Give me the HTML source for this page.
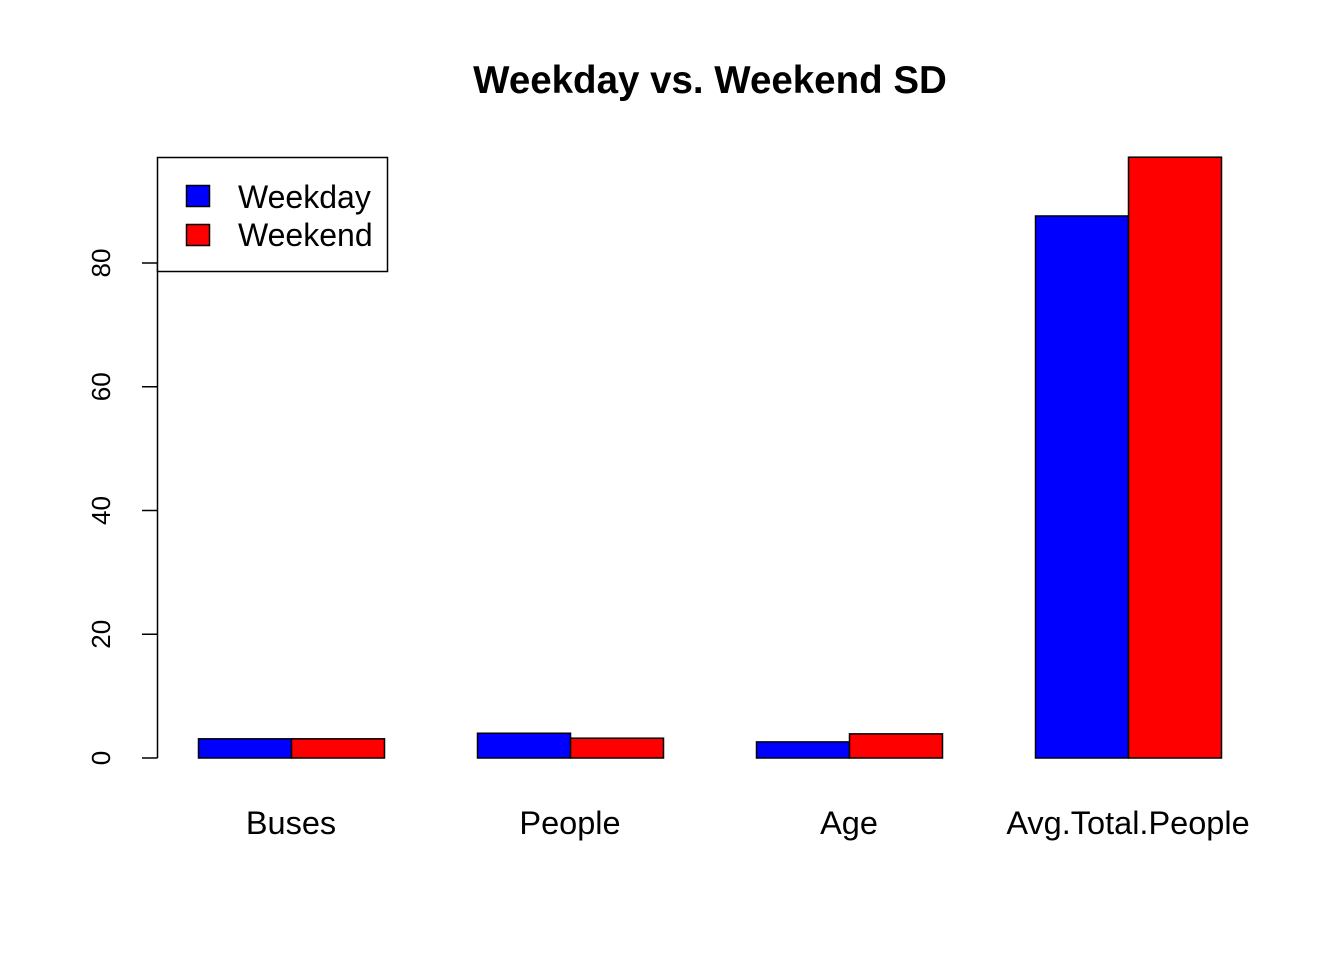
<!DOCTYPE html>
<html><head><meta charset="utf-8"><style>
html,body{margin:0;padding:0;background:#fff;}
svg text{font-family:"Liberation Sans",Arial,sans-serif;}
</style></head><body>
<svg id="chart" width="1344" height="960" viewBox="0 0 1344 960">
<rect width="1344" height="960" fill="#fff"/>
<text x="710" y="93" font-size="38.5" font-weight="bold" text-anchor="middle">Weekday vs. Weekend SD</text>
<g id="bars"></g>
<g id="yaxis"></g>
<g id="xlabels"></g>
<g>
<rect x="157.5" y="157.5" width="230" height="114" fill="#fff" stroke="#000" stroke-width="1.5"/>
<g>
<rect x="186.5" y="185.5" width="23" height="21" fill="#0000ff" stroke="#000" stroke-width="1.5"/>
<text x="238" y="208" font-size="32">Weekday</text></g>
<g>
<rect x="186.5" y="224.5" width="23" height="21" fill="#ff0000" stroke="#000" stroke-width="1.5"/>
<text x="238" y="246" font-size="32">Weekend</text></g>
</g>
</svg>
<script>
const categories = ["Buses","People","Age","Avg.Total.People"];
const weekday = [3.1, 4.0, 2.6, 87.6];
const weekend = [3.1, 3.2, 3.9, 97.1];
const yTicks = [0,20,40,60,80];
const colors = ["#0000ff","#ff0000"];

const NS="http://www.w3.org/2000/svg";
const y0=758, yScale=495/80;
function yPos(v){return y0 - v*yScale;}
const barW=93, groupStart=198, groupStep=279;
function xPos(i,s){return groupStart + i*groupStep + s*barW;}

const bars=document.getElementById('bars');
[weekday,weekend].forEach((series,s)=>{
  series.forEach((v,i)=>{
    const r=document.createElementNS(NS,'rect');
    r.setAttribute('x',xPos(i,s)+0.5);
    r.setAttribute('y',yPos(v));
    r.setAttribute('width',barW);
    r.setAttribute('height',y0-yPos(v));
    r.setAttribute('fill',colors[s]);
    r.setAttribute('stroke','#000');
    r.setAttribute('stroke-width','1.5');
    
    
    bars.appendChild(r);
  });
});

const yaxis=document.getElementById('yaxis');
const line=document.createElementNS(NS,'line');
line.setAttribute('x1',157.5);line.setAttribute('x2',157.5);
line.setAttribute('y1',yPos(yTicks[0]));line.setAttribute('y2',yPos(yTicks[yTicks.length-1]));
line.setAttribute('stroke','#000');line.setAttribute('stroke-width','1.5');


yaxis.appendChild(line);
yTicks.forEach(t=>{
  const tk=document.createElementNS(NS,'line');
  tk.setAttribute('x1',142);tk.setAttribute('x2',157.5);
  tk.setAttribute('y1',yPos(t));tk.setAttribute('y2',yPos(t));
  tk.setAttribute('stroke','#000');tk.setAttribute('stroke-width','1.5');
  
  
  yaxis.appendChild(tk);
  const tx=document.createElementNS(NS,'text');
  tx.setAttribute('x',110);tx.setAttribute('y',yPos(t));
  tx.setAttribute('font-size','26');
  tx.setAttribute('text-anchor','middle');
  tx.setAttribute('transform','rotate(-90 110 '+yPos(t)+')');
  tx.textContent=t;
  
  
  yaxis.appendChild(tx);
});

const xl=document.getElementById('xlabels');
categories.forEach((c,i)=>{
  const tx=document.createElementNS(NS,'text');
  tx.setAttribute('x',xPos(i,1));tx.setAttribute('y',834);
  tx.setAttribute('font-size','32.5');
  tx.setAttribute('text-anchor','middle');
  tx.textContent=c;
  
  
  xl.appendChild(tx);
});
</script>
</body></html>
